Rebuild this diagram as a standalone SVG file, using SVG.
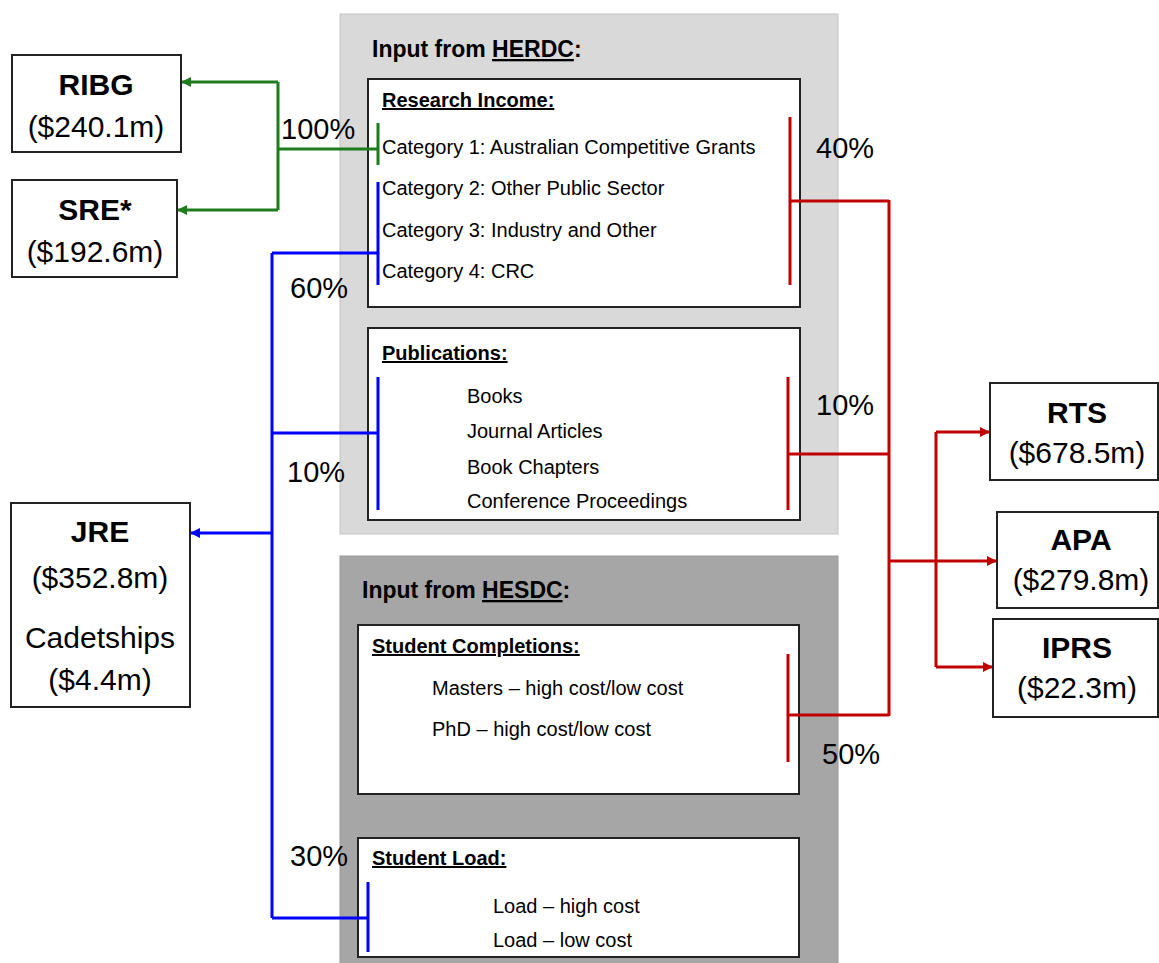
<svg xmlns="http://www.w3.org/2000/svg" width="1159" height="963" viewBox="0 0 1159 963">
<style>
text{font-family:"Liberation Sans",Arial,sans-serif;fill:#000}
.box{fill:#fff;stroke:#222;stroke-width:2}
.name{font-size:30px;font-weight:bold;text-anchor:middle}
.amt{font-size:30px;text-anchor:middle}
.pct{font-size:29px}
.title{font-size:23px;font-weight:bold}
.head{font-size:20px;font-weight:bold;text-decoration:underline}
.item{font-size:20px}
.g{stroke:#1e7b1e;stroke-width:3;fill:none}
.b{stroke:#0000ff;stroke-width:3;fill:none}
.r{stroke:#c00000;stroke-width:3;fill:none}
</style>
<defs>
<marker id="ag" markerWidth="10" markerHeight="10" refX="9" refY="5" orient="auto" markerUnits="userSpaceOnUse"><path d="M0,0 L10,5 L0,10 z" fill="#1e7b1e"/></marker>
<marker id="ab" markerWidth="10" markerHeight="10" refX="9" refY="5" orient="auto" markerUnits="userSpaceOnUse"><path d="M0,0 L10,5 L0,10 z" fill="#0000ff"/></marker>
<marker id="ar" markerWidth="10" markerHeight="10" refX="9" refY="5" orient="auto" markerUnits="userSpaceOnUse"><path d="M0,0 L10,5 L0,10 z" fill="#c00000"/></marker>
</defs>
<rect width="1159" height="963" fill="#fff"/>

<g id="herdc">
<rect x="340" y="14" width="498" height="520" fill="#d9d9d9" stroke="#c4c4c4" stroke-width="1"/>
<text class="title" x="372" y="57">Input from <tspan text-decoration="underline">HERDC</tspan>:</text>
</g>
<g id="research-income">
<rect class="box" x="368" y="79" width="432" height="228"/>
<text class="head" x="382" y="107">Research Income:</text>
<text class="item" x="382" y="154">Category 1: Australian Competitive Grants</text>
<text class="item" x="382" y="195">Category 2: Other Public Sector</text>
<text class="item" x="382" y="237">Category 3: Industry and Other</text>
<text class="item" x="382" y="278">Category 4: CRC</text>
</g>
<g id="publications">
<rect class="box" x="368" y="328" width="432" height="192"/>
<text class="head" x="382" y="360">Publications:</text>
<text class="item" x="467" y="403">Books</text>
<text class="item" x="467" y="438">Journal Articles</text>
<text class="item" x="467" y="474">Book Chapters</text>
<text class="item" x="467" y="508">Conference Proceedings</text>
</g>
<g id="hesdc">
<rect x="340" y="556" width="498" height="410" fill="#a6a6a6" stroke="#999" stroke-width="1"/>
<text class="title" x="362" y="598">Input from <tspan text-decoration="underline">HESDC</tspan>:</text>
</g>
<g id="student-completions">
<rect class="box" x="358" y="625" width="441" height="169"/>
<text class="head" x="372" y="653">Student Completions:</text>
<text class="item" x="432" y="695">Masters – high cost/low cost</text>
<text class="item" x="432" y="736">PhD – high cost/low cost</text>
</g>
<g id="student-load">
<rect class="box" x="358" y="838" width="441" height="119"/>
<text class="head" x="372" y="865">Student Load:</text>
<text class="item" x="493" y="913">Load – high cost</text>
<text class="item" x="493" y="947">Load – low cost</text>
</g>

<g id="ribg">
<rect class="box" x="12" y="55" width="169" height="97"/>
<text class="name" x="96" y="95">RIBG</text>
<text class="amt" x="96" y="137">($240.1m)</text>
</g>
<g id="sre">
<rect class="box" x="12" y="180" width="165" height="97"/>
<text class="name" x="95" y="220">SRE*</text>
<text class="amt" x="95" y="262">($192.6m)</text>
</g>
<g id="jre">
<rect class="box" x="11" y="503" width="179" height="204"/>
<text class="name" x="100" y="542">JRE</text>
<text class="amt" x="100" y="588">($352.8m)</text>
<text class="amt" x="100" y="648">Cadetships</text>
<text class="amt" x="100" y="690">($4.4m)</text>
</g>
<g id="rts">
<rect class="box" x="990" y="383" width="168" height="97"/>
<text class="name" x="1077" y="423">RTS</text>
<text class="amt" x="1077" y="463">($678.5m)</text>
</g>
<g id="apa">
<rect class="box" x="997" y="512" width="161" height="96"/>
<text class="name" x="1081" y="550">APA</text>
<text class="amt" x="1081" y="590">($279.8m)</text>
</g>
<g id="iprs">
<rect class="box" x="993" y="619" width="165" height="98"/>
<text class="name" x="1077" y="658">IPRS</text>
<text class="amt" x="1077" y="698">($22.3m)</text>
</g>

<g id="connectors">
<!-- green -->
<line class="g" x1="378" y1="123" x2="378" y2="165"/>
<line class="g" x1="378" y1="149" x2="278" y2="149"/>
<path class="g" d="M278,82 V210"/>
<line class="g" x1="278" y1="82" x2="182" y2="82" marker-end="url(#ag)"/>
<line class="g" x1="278" y1="210" x2="178" y2="210" marker-end="url(#ag)"/>
<!-- blue -->
<line class="b" x1="378" y1="182" x2="378" y2="285"/>
<line class="b" x1="378" y1="253" x2="272" y2="253"/>
<line class="b" x1="378" y1="377" x2="378" y2="510"/>
<line class="b" x1="378" y1="433" x2="272" y2="433"/>
<line class="b" x1="368" y1="882" x2="368" y2="952"/>
<line class="b" x1="368" y1="918" x2="272" y2="918"/>
<line class="b" x1="272" y1="253" x2="272" y2="918"/>
<line class="b" x1="272" y1="533" x2="191" y2="533" marker-end="url(#ab)"/>
<!-- red -->
<line class="r" x1="790" y1="117" x2="790" y2="285"/>
<line class="r" x1="790" y1="201" x2="889" y2="201"/>
<line class="r" x1="788" y1="377" x2="788" y2="510"/>
<line class="r" x1="788" y1="454" x2="889" y2="454"/>
<line class="r" x1="788" y1="654" x2="788" y2="762"/>
<line class="r" x1="788" y1="715" x2="889" y2="715"/>
<line class="r" x1="889" y1="200" x2="889" y2="716"/>
<line class="r" x1="889" y1="561" x2="996" y2="561" marker-end="url(#ar)"/>
<line class="r" x1="936" y1="432" x2="936" y2="667"/>
<line class="r" x1="936" y1="432" x2="989" y2="432" marker-end="url(#ar)"/>
<line class="r" x1="936" y1="667" x2="992" y2="667" marker-end="url(#ar)"/>
</g>

<g id="labels">
<text class="pct" x="281" y="139">100%</text>
<text class="pct" x="290" y="298">60%</text>
<text class="pct" x="287" y="482">10%</text>
<text class="pct" x="290" y="866">30%</text>
<text class="pct" x="816" y="158">40%</text>
<text class="pct" x="816" y="415">10%</text>
<text class="pct" x="822" y="764">50%</text>
</g>
</svg>
